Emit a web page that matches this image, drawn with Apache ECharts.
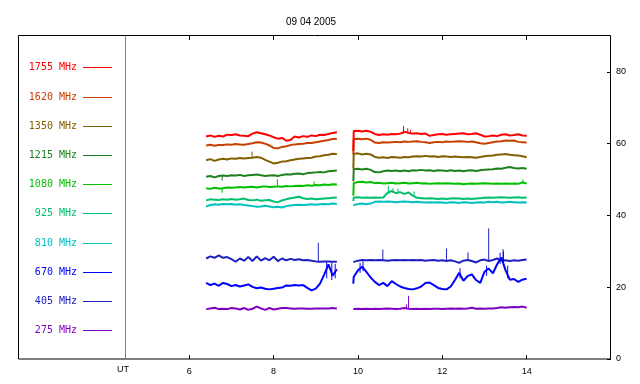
<!DOCTYPE html>
<html>
<head>
<meta charset="utf-8">
<script src="https://cdn.jsdelivr.net/npm/echarts@6/dist/echarts.min.js"></script>
<style>html,body{margin:0;padding:0;background:#fff}#c{width:640px;height:384px}</style>
</head>
<body>
<div id="c"></div>
<script>
// ---------- data ----------
const titleText = '09 04 2005';
const xTicks = [6, 8, 10, 12, 14];
const yTicks = [0, 20, 40, 60, 80];
const freqLabels = ['1755 MHz','1620 MHz','1350 MHz','1215 MHz','1080 MHz','925 MHz','810 MHz','670 MHz','405 MHz','275 MHz'];
const freqColors = ['#ff0000','#c84000','#806000','#208020','#00c000','#00c070','#00c0c0','#0000ff','#2020c0','#8000c0'];

const times1 = [6.4,6.5,6.6,6.7,6.8,6.9,7.0,7.1,7.2,7.3,7.4,7.5,7.6,7.7,7.8,7.9,8.0,8.1,8.2,8.3,8.4,8.5,8.6,8.7,8.8,8.9,9.0,9.1,9.2,9.3,9.4,9.5];
const times2 = [9.89,9.9,10.0,10.1,10.2,10.3,10.4,10.5,10.6,10.7,10.8,10.9,11.0,11.1,11.2,11.3,11.4,11.5,11.6,11.7,11.8,11.9,12.0,12.1,12.2,12.3,12.4,12.5,12.6,12.7,12.8,12.9,13.0,13.1,13.2,13.3,13.4,13.5,13.6,13.7,13.8,13.9,14.0];

const f1755a = [62.0,62.3,61.9,62.2,62.0,62.5,62.4,62.6,62.3,62.2,62.1,62.8,63.2,62.9,62.6,62.3,61.8,61.4,61.6,60.8,61.0,62.0,61.7,62.1,61.9,62.3,62.1,62.5,62.4,62.7,63.0,63.2];
const f1755b = [58.0,63.5,63.6,63.4,63.6,63.3,62.7,62.4,62.6,62.5,62.7,62.6,62.8,63.3,63.0,62.8,62.9,62.7,62.8,62.2,62.4,62.6,62.7,62.5,62.6,62.7,62.8,62.9,62.6,62.7,62.9,62.5,62.0,62.1,62.3,62.1,62.5,62.6,62.3,62.4,62.6,62.3,62.2];
const f1620a = [59.5,59.7,59.4,59.6,59.6,59.8,59.7,59.9,59.8,59.7,59.9,60.1,60.4,60.3,60.0,59.5,58.8,58.7,59.1,59.3,59.6,59.8,59.9,60.0,60.2,60.2,60.4,60.6,60.8,61.0,61.3,61.4];
const f1620b = [57.0,61.3,61.4,61.2,61.4,61.1,60.3,60.2,60.4,60.3,60.4,60.5,60.4,60.6,60.5,60.6,60.7,60.5,60.4,60.2,60.4,60.5,60.4,60.6,60.5,60.6,60.7,60.6,60.5,60.6,60.4,60.1,60.0,60.2,60.4,60.6,60.7,60.9,60.8,60.9,60.5,60.4,60.3];
const f1350a = [55.4,55.7,55.2,55.6,55.8,55.6,55.9,55.8,56.0,55.9,56.0,56.1,56.3,56.1,55.5,55.0,54.5,54.7,55.0,55.1,55.4,55.6,55.8,55.9,56.0,56.1,56.4,56.5,56.8,56.9,57.2,57.1];
const f1350b = [53.0,57.1,57.3,57.0,57.2,57.0,56.3,56.1,56.2,56.0,56.3,56.2,56.1,56.3,56.2,56.4,56.5,56.4,56.6,56.4,56.5,56.3,56.5,56.4,56.3,56.4,56.3,56.2,56.3,56.2,56.1,56.3,56.5,56.6,56.7,56.9,57.0,57.1,56.9,56.8,56.7,56.5,56.2];
const f1215a = [50.8,51.0,50.6,51.0,51.1,51.0,51.2,51.1,51.3,51.0,51.2,51.3,51.4,51.2,51.0,51.1,51.2,51.0,51.3,51.5,51.4,51.6,51.7,51.5,51.8,51.9,52.0,52.1,52.0,52.3,52.4,52.5];
const f1215b = [49.5,52.9,53.0,52.8,53.0,52.7,52.1,52.0,52.3,52.5,52.4,52.5,52.3,52.5,52.3,52.6,52.5,52.7,52.5,52.6,52.4,52.6,52.5,52.4,52.6,52.4,52.5,52.3,52.5,52.6,52.4,52.6,52.7,52.8,52.9,53.1,53.0,53.3,53.5,53.2,53.1,53.2,53.0];
const f1080a = [47.6,47.4,47.7,47.5,47.6,47.8,47.7,47.8,47.9,47.8,47.9,48.0,47.8,48.0,48.1,47.9,48.0,48.1,48.0,48.2,48.1,48.2,48.3,48.2,48.4,48.3,48.5,48.4,48.6,48.5,48.7,48.6];
const f1080b = [45.5,49.0,49.3,49.4,49.2,49.3,49.0,49.1,48.9,49.0,49.1,48.9,49.0,49.1,48.9,49.0,49.1,48.9,49.0,48.8,48.9,49.0,48.9,49.0,48.9,48.8,48.9,48.7,48.8,48.9,48.8,48.9,49.0,48.9,48.8,48.9,48.8,48.9,48.8,48.9,48.8,49.2,48.9];
const f925a = [44.2,44.5,44.4,44.3,44.5,44.4,44.6,44.4,44.5,44.7,44.3,44.2,44.4,44.1,44.2,44.3,43.9,43.7,44.2,44.5,44.8,45.0,45.2,44.8,44.6,44.7,44.5,44.6,44.7,44.8,44.9,45.0];
const f925b = [44.0,45.0,45.1,44.9,45.0,44.9,45.0,44.9,45.0,46.3,46.8,46.2,46.5,46.0,46.4,45.5,44.9,44.8,44.7,44.8,44.7,44.6,44.7,44.6,44.7,44.8,44.7,44.6,44.7,44.6,44.7,44.8,44.9,45.0,44.9,45.0,45.1,45.0,44.9,45.0,45.1,44.9,45.0];
const f810a = [42.5,42.9,43.1,43.0,43.2,43.1,43.2,43.0,43.1,42.9,42.8,42.6,42.4,42.5,42.7,42.5,42.3,42.4,42.2,42.6,42.8,42.9,43.0,42.9,43.0,43.1,43.0,43.1,43.2,43.1,43.3,43.2];
const f810b = [42.8,43.3,43.2,43.3,43.1,43.3,43.8,43.9,43.8,43.9,43.8,43.7,43.8,43.9,43.8,43.7,43.8,43.7,43.6,43.7,43.6,43.7,43.6,43.5,43.7,43.6,43.5,43.7,43.6,43.5,43.6,43.7,43.6,43.8,43.7,43.8,43.6,43.7,43.8,43.7,43.6,43.7,43.6];
const f670a = [21.2,20.6,21.0,20.4,21.2,20.9,20.3,20.6,20.2,20.5,20.8,20.1,19.7,19.9,19.6,19.4,19.6,19.8,19.9,20.5,20.4,20.6,20.5,20.6,19.8,19.1,19.6,21.0,23.5,26.4,23.2,25.0];
const f670b = [21.0,22.9,24.7,25.7,24.3,22.7,21.5,20.6,21.2,20.3,21.7,20.9,20.2,19.8,19.5,19.4,19.7,20.2,21.2,21.3,20.6,19.8,19.5,19.4,20.2,22.0,24.0,21.8,23.1,23.6,22.0,21.2,24.3,25.2,23.9,26.4,28.3,24.7,22.1,22.3,21.5,22.1,22.4];
const f405a = [28.0,28.6,28.2,28.9,28.2,28.4,27.8,27.1,28.0,27.4,28.4,27.3,28.6,27.4,28.1,27.5,28.5,27.3,28.0,27.5,27.9,27.6,27.8,27.5,27.6,27.4,27.2,27.1,27.2,27.2,27.1,27.1];
const f405b = [27.0,27.1,27.4,27.6,27.5,27.6,27.5,27.6,27.5,27.4,27.5,27.6,27.5,27.6,27.5,27.6,27.5,27.6,27.4,27.5,27.6,27.4,27.5,27.3,27.5,27.2,26.8,27.4,27.6,27.3,26.9,27.5,27.7,27.3,27.6,28.0,27.4,27.5,27.3,27.5,27.4,27.6,27.7];
const f275a = [13.9,14.1,14.3,13.9,14.0,13.9,14.2,14.1,13.8,14.2,13.7,14.0,14.6,14.1,13.7,14.2,13.8,14.0,14.2,14.2,14.1,14.0,14.1,14.1,14.0,14.0,14.1,14.1,14.1,14.1,14.2,14.1];
const f275b = [13.9,13.9,14.0,13.9,14.0,13.9,14.0,13.9,14.0,14.1,14.0,13.9,14.0,14.2,14.0,13.9,14.0,13.9,14.0,13.9,14.0,14.0,13.9,14.0,14.1,14.0,14.1,14.0,14.1,14.3,14.0,14.1,14.0,14.1,14.1,14.2,14.4,14.3,14.4,14.5,14.4,14.6,14.3];

// spikes: [time, from, to]
const s1755 = [[11.08,62.8,65.0],[11.18,62.9,64.3],[11.25,62.9,63.9]];
const s1620 = [];
const s1350 = [[7.49,56.0,57.8]];
const s1215 = [[6.78,51.0,49.7]];
const s1080 = [[8.09,48.0,50.1],[8.96,48.3,49.5],[6.78,47.7,46.3],[13.91,48.9,50.0]];
const s925 = [[10.72,46.0,48.3],[10.83,46.5,47.6],[10.95,46.2,47.5],[11.33,45.3,46.7]];
const s810 = [];
const s670 = [[9.26,22.5,27.0],[9.38,22.0,26.8],[9.46,22.5,26.5],[10.05,24.0,26.8],[10.12,24.5,27.2],[12.42,22.5,25.3],[13.05,23.2,26.0],[13.37,26.5,29.6],[13.45,27.0,30.0],[13.55,22.5,26.0]];
const s405 = [[9.06,27.2,32.4],[10.59,27.5,30.5],[12.10,27.4,30.8],[12.61,27.5,29.7],[13.10,27.4,36.4],[13.44,27.6,30.6]];
const s275 = [[11.15,14.0,15.2],[11.20,14.1,17.6]];

const segA = [f1755a,f1620a,f1350a,f1215a,f1080a,f925a,f810a,f670a,f405a,f275a];
const segB = [f1755b,f1620b,f1350b,f1215b,f1080b,f925b,f810b,f670b,f405b,f275b];
const spikes = [s1755,s1620,s1350,s1215,s1080,s925,s810,s670,s405,s275];

// ---------- build ----------
const gapT = (times1[times1.length-1] + times2[0]) / 2;
const series = [];
for (let i = freqLabels.length - 1; i >= 0; i--) {
  const data = times1.map((t, k) => [t, segA[i][k]])
    .concat([[gapT, null]])
    .concat(times2.map((t, k) => [t, segB[i][k]]));
  series.push({
    type: 'line', name: freqLabels[i], data: data, showSymbol: false, symbol: 'none',
    connectNulls: false, silent: true,
    lineStyle: { color: freqColors[i], width: 2 }
  });
  if (spikes[i].length) {
    const sd = [];
    spikes[i].forEach(s => { sd.push([s[0], s[1]], [s[0], s[2]], [s[0], null]); });
    series.push({
      type: 'line', data: sd, showSymbol: false, symbol: 'none', connectNulls: false, silent: true,
      lineStyle: { color: freqColors[i], width: 1 }
    });
  }
}

const graphics = [
  { type: 'rect', shape: { x: 18.5, y: 35.5, width: 592, height: 323.5 }, style: { fill: null, stroke: '#000', lineWidth: 1 }, z: 10 },
  { type: 'line', shape: { x1: 125.5, y1: 35.5, x2: 125.5, y2: 359 }, style: { stroke: '#808080', lineWidth: 1 }, z: 10 },
  { type: 'text', x: 123, y: 370, style: { text: 'UT', font: '9px "Liberation Sans", sans-serif', fill: '#000', align: 'center', verticalAlign: 'middle' } }
];
freqLabels.forEach((lab, i) => {
  const y = Math.round(67.3 + i * 29.2) + 0.5;
  graphics.push({ type: 'text', x: 77, y: y, style: { text: lab, font: '10px "DejaVu Sans Mono", monospace', fill: freqColors[i], align: 'right', verticalAlign: 'middle' } });
  graphics.push({ type: 'line', shape: { x1: 83, y1: y, x2: 112, y2: y }, style: { stroke: freqColors[i], lineWidth: 1 } });
});

const chart = echarts.init(document.getElementById('c'), null, { renderer: 'canvas' });
chart.setOption({
  animation: false,
  backgroundColor: '#fff',
  title: { text: titleText, left: 281, top: 12, textStyle: { fontSize: 10, fontWeight: 'normal', fontFamily: '"Liberation Sans", sans-serif', color: '#000' } },
  grid: { left: 126, right: 29, top: 36, bottom: 25 },
  xAxis: [
    { type: 'value', position: 'bottom', min: 4.5, max: 16, splitLine: { show: false },
      axisLine: { show: false },
      axisTick: { show: true, inside: true, length: 4, customValues: xTicks, lineStyle: { color: '#000' } },
      axisLabel: { customValues: xTicks, color: '#000', fontSize: 9, fontFamily: '"Liberation Sans", sans-serif', margin: 8 } },
    { type: 'value', position: 'top', min: 4.5, max: 16, splitLine: { show: false },
      axisLine: { show: false },
      axisTick: { show: true, inside: true, length: 4, customValues: xTicks, lineStyle: { color: '#000' } },
      axisLabel: { show: false } }
  ],
  yAxis: { type: 'value', position: 'right', min: 0, max: 90, splitLine: { show: false },
    axisLine: { show: false },
    axisTick: { show: true, inside: true, length: 4, customValues: yTicks, lineStyle: { color: '#000' } },
    axisLabel: { customValues: yTicks, color: '#000', fontSize: 9, fontFamily: '"Liberation Sans", sans-serif', margin: 5 } },
  series: series,
  graphic: graphics
});
</script>
</body>
</html>
